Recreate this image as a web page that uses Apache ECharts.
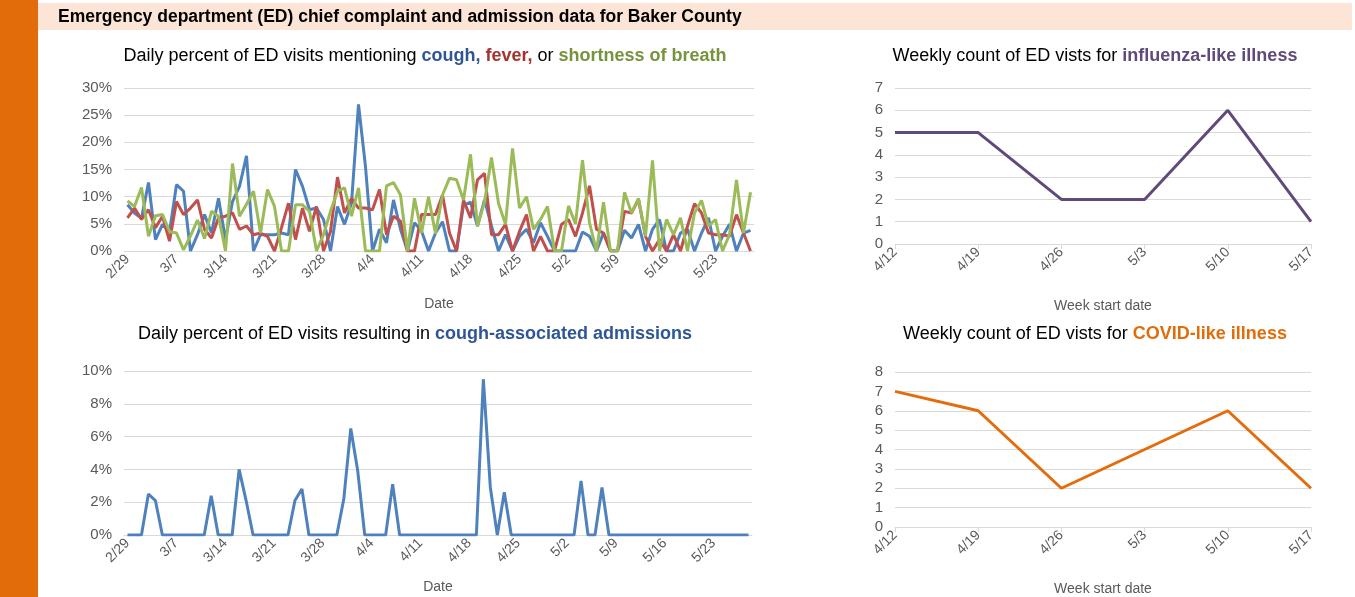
<!DOCTYPE html>
<html>
<head>
<meta charset="utf-8">
<script src="https://cdn.jsdelivr.net/npm/echarts@6/dist/echarts.min.js"></script>
<style>html,body{margin:0;padding:0;background:#fff}#main{width:1355px;height:597px}</style>
</head>
<body>
<div id="main"></div>
<script>
// daily dates 2/29 .. 5/28
var days = [];
var monthLen = {2: 29, 3: 31, 4: 30, 5: 31};
var m = 2, d = 29;
for (var k = 0; k < 90; k++) {
    days.push(m + '/' + d);
    d++;
    if (d > monthLen[m]) { d = 1; m++; }
}

// percent of ED visits mentioning ...
var cough = [8.5, 7, 6, 12.6, 2.1, 4.9, 3.5, 12.2, 11, 0,
    3, 6.7, 3.3, 9.7, 2.1, 9.1, 11.9, 17.5, 0, 3,
    3, 3, 3.3, 3, 15, 11.9, 7.6, 7.9, 5.8, 0,
    8.2, 4.9, 8.8, 27, 15.5, 0, 4, 1.5, 9.4, 4,
    0, 5.2, 3.7, 0, 3.3, 5.4, 0, 0, 8.4, 9,
    4.6, 9.4, 4.6, 0, 3, 0, 2.7, 4, 1.5, 5.2,
    2.7, 0, 0, 0, 0, 3.5, 2.7, 0, 3.3, 0,
    0, 3.8, 2.4, 4.9, 0, 4, 5.8, 0, 0, 3.3,
    4, 0, 3.3, 6.1, 0, 2.7, 4.9, 0, 3.3, 3.8];
var fever = [6.1, 7.9, 5.8, 7.6, 4.3, 6.4, 1.8, 9.1, 6.7, 7.9,
    9.4, 4, 2.4, 6.1, 6.4, 7, 4, 4.6, 3, 3.3,
    2.7, 0, 4.3, 8.8, 2.1, 7.9, 3.6, 8.2, 0, 3.6,
    13.6, 7, 9.7, 7.9, 7.9, 7.6, 11.3, 3, 6.4, 5.5,
    0, 0, 6.7, 6.7, 6.7, 10.3, 3.3, 0, 9.4, 6.1,
    13.1, 14.3, 3, 3, 4.9, 0, 3.6, 6.7, 0, 2.7,
    0, 0, 4.9, 5.8, 2.7, 7, 12, 4, 3.3, 0,
    0, 7.3, 7, 9.5, 2.7, 0, 2.1, 0, 3, 0,
    4.6, 8.7, 7, 3.3, 3, 3, 2.7, 6.7, 3.3, 0];
var breath = [9.2, 8.2, 11.7, 2.7, 6.5, 6.7, 3.6, 3.3, 0.2, 2.8,
    5.7, 2.3, 7.3, 6.4, 0, 16.1, 6.4, 8.6, 11, 3.3,
    11.3, 8.2, 0, 0, 8.5, 8.5, 7.3, 0, 3, 7.3,
    11, 11.6, 6.4, 11.6, 0, 0, 0, 12, 12.6, 10.3,
    0, 9.7, 3.3, 10, 3.2, 10.3, 13.4, 13.1, 9.4, 17.8,
    4.6, 9, 17.2, 8.8, 4.9, 18.9, 7.9, 10, 4, 5.8,
    8.2, 0, 0, 8.3, 5, 16.7, 5.2, 0, 9, 0,
    0, 10.8, 7, 9.7, 2.7, 16.7, 0, 5.8, 3, 6.1,
    0, 7, 9.3, 4.6, 5.8, 0, 3, 13.1, 3.3, 10.8];

// percent of ED visits resulting in cough-associated admissions
var admit = [0, 0, 0, 2.5, 2.1, 0, 0, 0, 0, 0,
    0, 0, 2.4, 0, 0, 0, 4, 2.1, 0, 0,
    0, 0, 0, 0, 2.1, 2.8, 0, 0, 0, 0,
    0, 2.2, 6.5, 3.9, 0, 0, 0, 0, 3.1, 0,
    0, 0, 0, 0, 0, 0, 0, 0, 0, 0,
    0, 9.5, 2.9, 0, 2.6, 0, 0, 0, 0, 0,
    0, 0, 0, 0, 0, 3.3, 0, 0, 2.9, 0,
    0, 0, 0, 0, 0, 0, 0, 0, 0, 0,
    0, 0, 0, 0, 0, 0, 0, 0, 0, 0];

// weekly counts
var weeks = ['4/12', '4/19', '4/26', '5/3', '5/10', '5/17'];
var ili = [5, 5, 2, 2, 6, 1];
var cli = [7, 6, 2, 4, 6, 2];

var FONT = '"Liberation Sans", Arial, sans-serif';
var grey = '#595959';
var gridLine = '#d9d9d9';

function dayAxis(idx, gap) {
    return {
        type: 'category', gridIndex: idx, data: days, boundaryGap: true,
        name: 'Date', nameLocation: 'middle', nameGap: gap,
        nameTextStyle: {color: grey, fontSize: 14, fontFamily: FONT},
        axisLine: {lineStyle: {color: gridLine}},
        axisTick: {interval: 6, length: 5, lineStyle: {color: gridLine}},
        axisLabel: {interval: 6, rotate: 45, color: grey, fontSize: 14, fontFamily: FONT, margin: 6}
    };
}
function weekAxis(idx) {
    return {
        type: 'category', gridIndex: idx, data: weeks, boundaryGap: false,
        name: 'Week start date', nameLocation: 'middle', nameGap: 55,
        nameTextStyle: {color: grey, fontSize: 14, fontFamily: FONT},
        axisLine: {lineStyle: {color: gridLine}},
        axisTick: {length: 5, lineStyle: {color: gridLine}},
        axisLabel: {rotate: 45, color: grey, fontSize: 14, fontFamily: FONT, margin: 6}
    };
}
function valAxis(idx, max, interval, pct, margin) {
    return {
        type: 'value', gridIndex: idx, min: 0, max: max, interval: interval,
        axisLine: {show: false}, axisTick: {show: false},
        splitLine: {lineStyle: {color: gridLine}},
        axisLabel: {color: grey, fontSize: 15, fontFamily: FONT, margin: margin,
            formatter: pct ? '{value}%' : '{value}'}
    };
}
function line(name, x, data, color) {
    return {
        name: name, type: 'line', xAxisIndex: x, yAxisIndex: x, data: data,
        symbol: 'none', lineStyle: {color: color, width: 3}, itemStyle: {color: color}
    };
}
function title(x, y, rich, text) {
    return {
        left: x, top: y, textAlign: 'center', text: text,
        textStyle: {fontSize: 18, fontWeight: 'normal', color: '#000', fontFamily: FONT, rich: rich}
    };
}
var base = {fontSize: 18, color: '#000', fontFamily: FONT};
function bold(c) { return {fontSize: 18, color: c, fontWeight: 'bold', fontFamily: FONT}; }

var chart = echarts.init(document.getElementById('main'));
chart.setOption({
    animation: false,
    graphic: [
        {type: 'rect', shape: {x: 0, y: 0, width: 38, height: 597}, style: {fill: '#E36C0A'}},
        {type: 'rect', shape: {x: 38, y: 3, width: 1314, height: 27}, style: {fill: '#FCE4D6'}},
        {type: 'text', x: 58, y: 17, style: {text: 'Emergency department (ED) chief complaint and admission data for Baker County',
            fill: '#000', font: 'bold 17.5px "Liberation Sans", Arial, sans-serif', verticalAlign: 'middle'}}
    ],
    title: [
        title(420, 42, {n: base, c: bold('#2F5597'), f: bold('#A5322F'), g: bold('#77933C')},
            '{n|Daily percent of ED visits mentioning }{c|cough,} {f|fever,}{n| or }{g|shortness of breath}'),
        title(410, 320, {n: base, c: bold('#2F5597')},
            '{n|Daily percent of ED visits resulting in }{c|cough-associated admissions}'),
        title(1090, 42, {n: base, p: bold('#604A7B')},
            '{n|Weekly count of ED vists for }{p|influenza-like illness}'),
        title(1090, 320, {n: base, o: bold('#E36C0A')},
            '{n|Weekly count of ED vists for }{o|COVID-like illness}')
    ],
    grid: [
        {left: 124, top: 88, width: 630, height: 163},
        {left: 124, top: 371, width: 628, height: 164},
        {left: 895, top: 88, width: 416, height: 156},
        {left: 895, top: 372, width: 416, height: 156}
    ],
    xAxis: [dayAxis(0, 46), dayAxis(1, 45), weekAxis(2), weekAxis(3)],
    yAxis: [valAxis(0, 30, 5, true, 12), valAxis(1, 10, 2, true, 12),
        valAxis(2, 7, 1, false, 12), valAxis(3, 8, 1, false, 12)],
    series: [
        line('cough', 0, cough, '#4F81BD'),
        line('fever', 0, fever, '#C0504D'),
        line('shortness of breath', 0, breath, '#9BBB59'),
        line('cough-associated admissions', 1, admit, '#4F81BD'),
        line('influenza-like illness', 2, ili, '#604A7B'),
        line('COVID-like illness', 3, cli, '#E46C0A')
    ]
});
</script>
</body>
</html>
